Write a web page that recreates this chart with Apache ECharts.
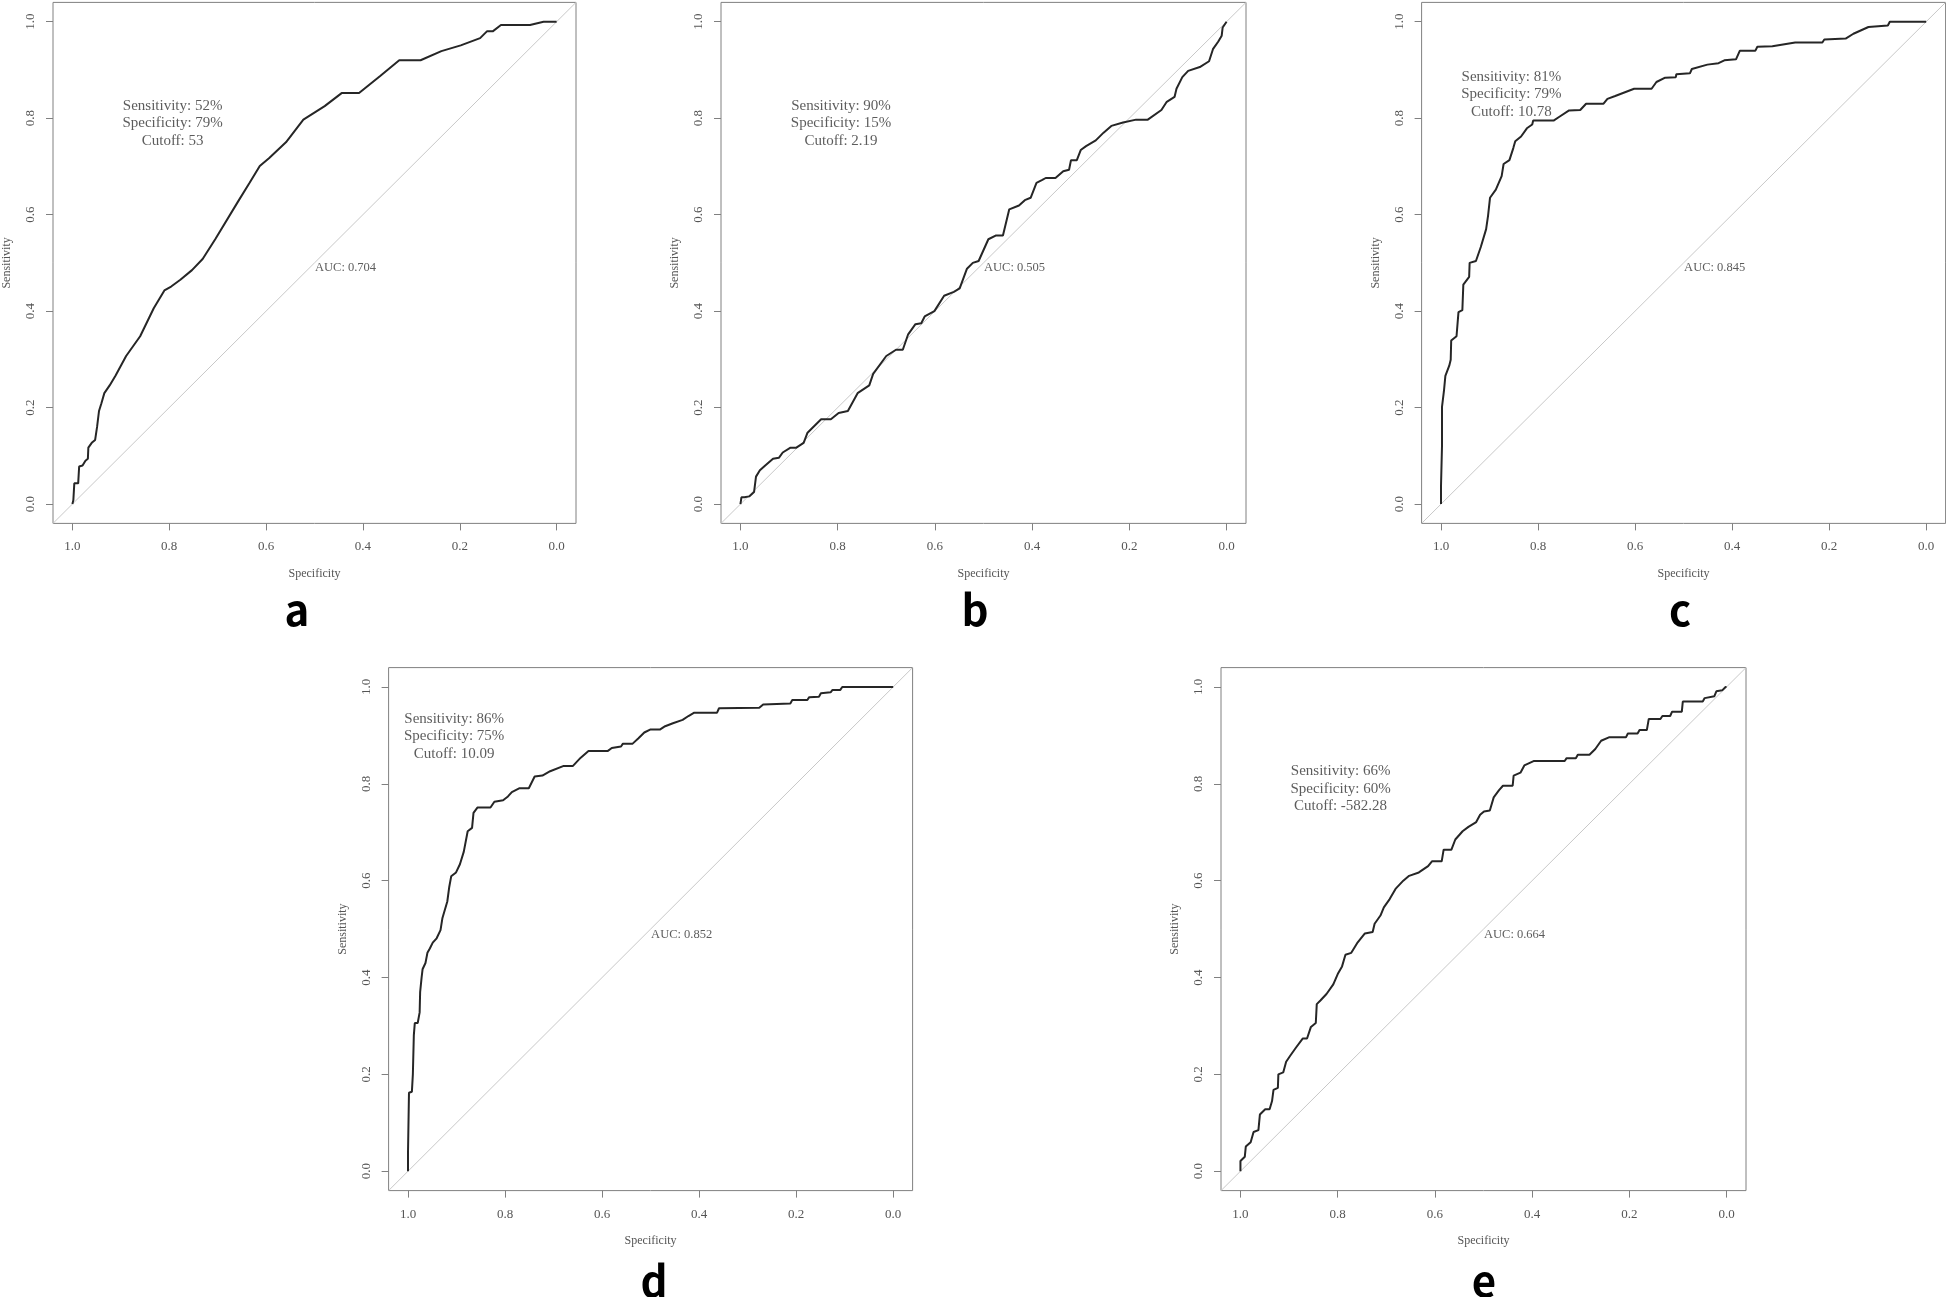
<!DOCTYPE html>
<html>
<head>
<meta charset="utf-8">
<script src="https://cdn.jsdelivr.net/npm/echarts@6/dist/echarts.min.js"></script>
<style>
html,body{margin:0;padding:0;background:#fff;}
#chart{width:1946px;height:1297px;}
</style>
</head>
<body>
<div id="chart"></div>
<script>
// ---- data: [specificity, sensitivity] ----
const rocA = [[1,0],[0.998,0.008],[0.996,0.043],[0.988,0.043],[0.986,0.078],[0.979,0.080],[0.973,0.090],[0.968,0.094],[0.967,0.117],[0.960,0.127],[0.953,0.133],[0.949,0.160],[0.945,0.193],[0.940,0.209],[0.934,0.230],[0.923,0.246],[0.911,0.266],[0.889,0.307],[0.860,0.348],[0.832,0.406],[0.810,0.443],[0.796,0.451],[0.777,0.465],[0.753,0.485],[0.731,0.508],[0.705,0.549],[0.658,0.627],[0.634,0.666],[0.613,0.701],[0.594,0.717],[0.559,0.750],[0.523,0.797],[0.479,0.825],[0.444,0.852],[0.408,0.852],[0.365,0.887],[0.325,0.920],[0.281,0.920],[0.238,0.939],[0.198,0.951],[0.158,0.966],[0.144,0.980],[0.132,0.980],[0.115,0.993],[0.055,0.993],[0.027,1.0],[0,1.0]];
const rocB = [[1,0],[0.998,0.014],[0.992,0.014],[0.982,0.016],[0.972,0.025],[0.968,0.057],[0.960,0.070],[0.949,0.080],[0.933,0.094],[0.921,0.096],[0.913,0.107],[0.897,0.117],[0.885,0.117],[0.870,0.127],[0.862,0.148],[0.846,0.164],[0.834,0.176],[0.814,0.176],[0.798,0.189],[0.779,0.193],[0.759,0.230],[0.735,0.246],[0.727,0.270],[0.700,0.307],[0.680,0.320],[0.666,0.320],[0.655,0.352],[0.640,0.373],[0.628,0.375],[0.621,0.389],[0.601,0.400],[0.581,0.432],[0.561,0.440],[0.549,0.447],[0.534,0.488],[0.522,0.500],[0.510,0.504],[0.490,0.549],[0.474,0.557],[0.460,0.557],[0.447,0.611],[0.427,0.619],[0.415,0.630],[0.403,0.635],[0.391,0.666],[0.379,0.672],[0.372,0.676],[0.352,0.676],[0.336,0.690],[0.324,0.693],[0.320,0.713],[0.308,0.713],[0.300,0.734],[0.289,0.742],[0.269,0.754],[0.253,0.770],[0.237,0.784],[0.213,0.791],[0.186,0.797],[0.162,0.797],[0.134,0.817],[0.123,0.834],[0.107,0.844],[0.103,0.861],[0.091,0.885],[0.079,0.898],[0.055,0.906],[0.036,0.918],[0.028,0.943],[0.017,0.959],[0.010,0.971],[0.008,0.988],[0,1]];
const rocC = [[1,0],[1,0.037],[0.998,0.119],[0.998,0.201],[0.994,0.234],[0.991,0.266],[0.983,0.287],[0.980,0.299],[0.979,0.339],[0.968,0.348],[0.964,0.398],[0.956,0.402],[0.954,0.455],[0.942,0.471],[0.941,0.500],[0.928,0.504],[0.918,0.533],[0.907,0.570],[0.903,0.598],[0.899,0.635],[0.887,0.652],[0.875,0.680],[0.871,0.705],[0.859,0.713],[0.851,0.738],[0.847,0.752],[0.835,0.762],[0.823,0.779],[0.812,0.787],[0.810,0.795],[0.768,0.795],[0.756,0.803],[0.736,0.816],[0.713,0.817],[0.701,0.830],[0.665,0.830],[0.657,0.840],[0.641,0.846],[0.602,0.861],[0.566,0.861],[0.556,0.875],[0.538,0.884],[0.516,0.885],[0.515,0.891],[0.487,0.893],[0.483,0.902],[0.451,0.911],[0.428,0.914],[0.416,0.920],[0.392,0.922],[0.384,0.940],[0.352,0.940],[0.348,0.948],[0.317,0.949],[0.270,0.957],[0.214,0.957],[0.210,0.963],[0.166,0.965],[0.150,0.975],[0.119,0.989],[0.079,0.992],[0.075,1],[0,1]];
const rocD = [[1,0],[1,0.038],[0.998,0.162],[0.992,0.164],[0.990,0.200],[0.988,0.281],[0.986,0.306],[0.980,0.306],[0.976,0.328],[0.975,0.370],[0.972,0.400],[0.970,0.417],[0.964,0.430],[0.960,0.451],[0.955,0.460],[0.949,0.472],[0.941,0.481],[0.933,0.498],[0.929,0.523],[0.919,0.557],[0.915,0.587],[0.911,0.609],[0.901,0.617],[0.893,0.634],[0.885,0.660],[0.877,0.702],[0.868,0.709],[0.865,0.740],[0.857,0.751],[0.830,0.751],[0.822,0.763],[0.804,0.766],[0.794,0.774],[0.786,0.783],[0.770,0.791],[0.751,0.791],[0.739,0.815],[0.723,0.817],[0.707,0.826],[0.679,0.837],[0.660,0.837],[0.644,0.854],[0.628,0.868],[0.588,0.868],[0.580,0.874],[0.561,0.877],[0.557,0.883],[0.537,0.883],[0.525,0.894],[0.513,0.906],[0.501,0.912],[0.481,0.912],[0.470,0.919],[0.454,0.925],[0.434,0.932],[0.422,0.940],[0.410,0.947],[0.363,0.947],[0.359,0.956],[0.276,0.957],[0.268,0.964],[0.212,0.966],[0.208,0.973],[0.177,0.973],[0.173,0.979],[0.153,0.980],[0.149,0.987],[0.129,0.989],[0.125,0.994],[0.109,0.994],[0.105,1],[0,1]];
const rocE = [[1,0],[1,0.021],[0.991,0.030],[0.989,0.051],[0.979,0.060],[0.973,0.081],[0.963,0.085],[0.960,0.117],[0.949,0.128],[0.940,0.128],[0.935,0.145],[0.932,0.168],[0.923,0.172],[0.922,0.200],[0.912,0.204],[0.906,0.226],[0.898,0.238],[0.886,0.255],[0.872,0.274],[0.863,0.274],[0.855,0.298],[0.845,0.306],[0.843,0.345],[0.835,0.353],[0.823,0.366],[0.809,0.386],[0.799,0.409],[0.791,0.423],[0.784,0.447],[0.772,0.451],[0.760,0.471],[0.744,0.491],[0.728,0.494],[0.724,0.511],[0.712,0.528],[0.705,0.545],[0.693,0.562],[0.681,0.583],[0.665,0.600],[0.653,0.610],[0.633,0.617],[0.614,0.630],[0.606,0.640],[0.586,0.640],[0.582,0.664],[0.566,0.664],[0.558,0.685],[0.543,0.702],[0.531,0.711],[0.515,0.721],[0.507,0.736],[0.499,0.743],[0.487,0.745],[0.479,0.772],[0.468,0.787],[0.460,0.796],[0.440,0.796],[0.438,0.817],[0.424,0.823],[0.416,0.838],[0.397,0.847],[0.333,0.847],[0.329,0.853],[0.310,0.853],[0.306,0.860],[0.282,0.860],[0.270,0.872],[0.258,0.889],[0.242,0.896],[0.207,0.896],[0.203,0.904],[0.183,0.904],[0.179,0.911],[0.164,0.911],[0.160,0.934],[0.136,0.934],[0.132,0.940],[0.116,0.940],[0.112,0.949],[0.092,0.949],[0.090,0.970],[0.049,0.970],[0.045,0.977],[0.025,0.981],[0.021,0.991],[0.009,0.993],[0.002,1],[0,1]];

const panelLetters = ['a','b','c','d','e'];
const aucTexts = ['AUC: 0.704','AUC: 0.505','AUC: 0.845','AUC: 0.852','AUC: 0.664'];
const sensTexts = ['Sensitivity: 52%','Sensitivity: 90%','Sensitivity: 81%','Sensitivity: 86%','Sensitivity: 66%'];
const specTexts = ['Specificity: 79%','Specificity: 15%','Specificity: 79%','Specificity: 75%','Specificity: 60%'];
const cutTexts = ['Cutoff: 53','Cutoff: 2.19','Cutoff: 10.78','Cutoff: 10.09','Cutoff: -582.28'];
// annotation anchors [specificity, sensitivity] (centre of the 3-line block)
const noteAnchors = [[0.793,0.789],[0.793,0.789],[0.855,0.849],[0.905,0.898],[0.794,0.790]];
const aucAnchors = [[0.5,0.489],[0.5,0.489],[0.5,0.489],[0.5,0.489],[0.5,0.489]];
const tickValues = [0,0.2,0.4,0.6,0.8,1.0];
const diagonal = [[1.04,-0.04],[-0.04,1.04]];
const rocs = [rocA,rocB,rocC,rocD,rocE];

// ---- layout ----
const grids = [
  {left:52, top:2.4, width:524, height:521},
  {left:721, top:2.4, width:525, height:521},
  {left:1421.6, top:2.4, width:524, height:521},
  {left:388.6, top:667.6, width:524, height:523},
  {left:1221, top:667.6, width:525, height:523}
];
const letterPos = [[297,610],[975,610],[1680,610],[654,1281],[1484,1281]];

const SERIF = '"Liberation Serif","Times New Roman",serif';
const gridOpt=[], xAxes=[], yAxes=[], series=[], graphics=[];
rocs.forEach((roc,i)=>{
  gridOpt.push(Object.assign({show:true, borderColor:'#808080', borderWidth:1, backgroundColor:'#fff', containLabel:false}, grids[i]));
  xAxes.push({
    type:'value', gridIndex:i, min:-0.04, max:1.04, inverse:true, position:'bottom',
    name:'Specificity', nameLocation:'middle', nameGap:44,
    nameTextStyle:{fontFamily:SERIF, fontSize:12, color:'#555'},
    axisLine:{show:false, onZero:false},
    axisTick:{show:true, customValues:tickValues, length:7, lineStyle:{color:'#808080'}},
    axisLabel:{show:true, customValues:tickValues, formatter:v=>v.toFixed(1), margin:17, fontFamily:SERIF, fontSize:13, color:'#555'},
    splitLine:{show:false}
  });
  yAxes.push({
    type:'value', gridIndex:i, min:-0.04, max:1.04, position:'left',
    name:'Sensitivity', nameLocation:'middle', nameGap:40,
    nameTextStyle:{fontFamily:SERIF, fontSize:12, color:'#555'},
    axisLine:{show:false, onZero:false},
    axisTick:{show:true, customValues:tickValues, length:7, lineStyle:{color:'#808080'}},
    axisLabel:{show:true, customValues:tickValues, formatter:v=>v.toFixed(1), rotate:90, margin:16, fontFamily:SERIF, fontSize:13, color:'#555'},
    splitLine:{show:false}
  });
  series.push({
    type:'line', xAxisIndex:i, yAxisIndex:i, data:diagonal, symbol:'none', silent:true,
    lineStyle:{color:'#c8c8c8', width:1}, animation:false
  });
  series.push({
    type:'line', xAxisIndex:i, yAxisIndex:i, data:roc, symbol:'none', silent:true,
    lineStyle:{color:'#262626', width:2}, animation:false, z:3
  });
  series.push({
    type:'scatter', xAxisIndex:i, yAxisIndex:i, data:[noteAnchors[i]], symbolSize:1,
    itemStyle:{color:'rgba(0,0,0,0)'}, silent:true, animation:false,
    label:{show:true, position:'inside', align:'center', verticalAlign:'middle',
      formatter:[sensTexts[i],specTexts[i],cutTexts[i]].join('\n'),
      fontFamily:SERIF, fontSize:15, lineHeight:17.5, color:'#333'}
  });
  series.push({
    type:'scatter', xAxisIndex:i, yAxisIndex:i, data:[aucAnchors[i]], symbolSize:1,
    itemStyle:{color:'rgba(0,0,0,0)'}, silent:true, animation:false,
    label:{show:true, position:'right', distance:0, align:'left', verticalAlign:'middle',
      formatter:aucTexts[i], fontFamily:SERIF, fontSize:12.5, color:'#333'}
  });
  graphics.push({
    type:'text', x:letterPos[i][0], y:letterPos[i][1],
    style:{text:panelLetters[i], font:'bold 42px "Noto Sans CJK SC","Noto Sans",sans-serif', fill:'#000', textAlign:'center', textVerticalAlign:'middle'}
  });
});

const chart = echarts.init(document.getElementById('chart'), null, {renderer:'canvas'});
chart.setOption({
  backgroundColor:'#fff',
  animation:false,
  grid:gridOpt, xAxis:xAxes, yAxis:yAxes, series:series, graphic:graphics
});
</script>
</body>
</html>
